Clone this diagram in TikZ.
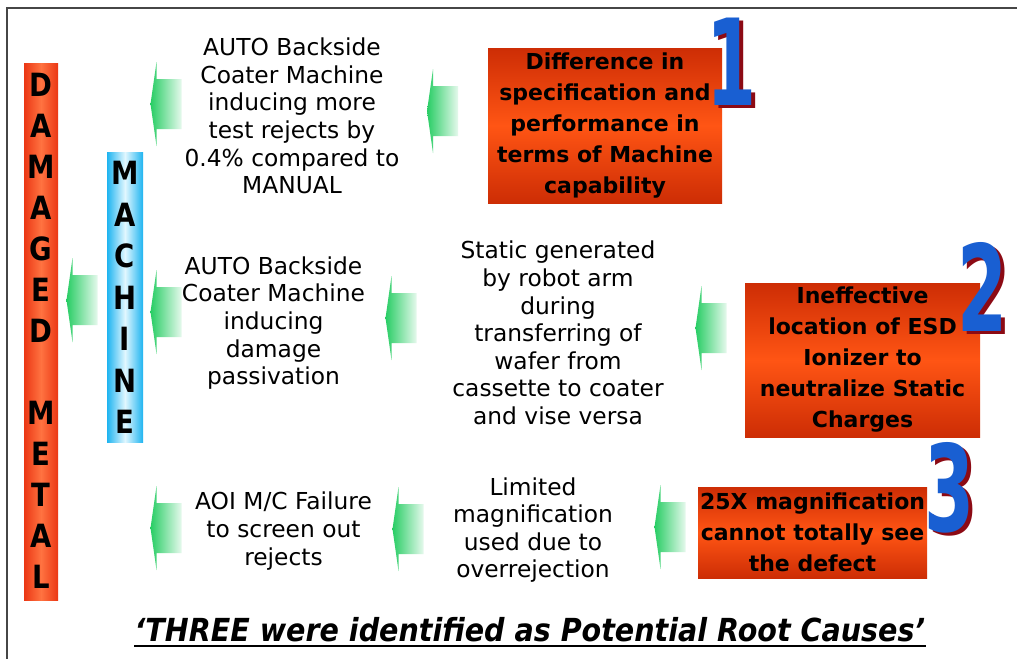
\documentclass[tikz,border=0pt]{standalone}
\usepackage{fontspec}
\setmainfont{DejaVu Sans}
\newfontfamily\barfont[FakeStretch=0.86]{DejaVu Sans}
\newfontfamily\numfont[FakeStretch=0.6]{DejaVu Sans}
\newfontfamily\titlefont[FakeStretch=0.9]{DejaVu Sans}
\newdimen\pxu \pxu=0.75pt
\definecolor{dmred}{RGB}{235,55,20}
\definecolor{dmlight}{RGB}{255,115,65}
\definecolor{mcblue}{RGB}{30,180,240}
\definecolor{mclight}{RGB}{225,247,255}
\definecolor{boxdark}{RGB}{205,45,5}
\definecolor{boxlight}{RGB}{255,85,20}
\definecolor{agreen}{RGB}{40,205,100}
\definecolor{numblue}{RGB}{25,95,210}
\definecolor{numshadow}{RGB}{140,10,20}
\definecolor{framegray}{RGB}{70,70,70}
\newcommand{\shadednum}[1]{\makebox[0pt][l]{\kern 2.6pt\raisebox{-2.3pt}{\textcolor{numshadow}{#1}}}#1}
\tikzset{
  garrow/.pic={
    \path[left color=agreen, right color=agreen!12]
      (-15.5,0) -- (-9.5,-42) -- (-9.5,-25) -- (15.5,-25) -- (15.5,25)
      -- (-9.5,25) -- (-9.5,42) -- cycle;
  },
  txt/.style={align=center, inner sep=0, font=\fontsize{17.5}{20.7}\selectfont},
  causebox/.style={top color=boxdark, bottom color=boxdark, middle color=boxlight,
    align=center, inner sep=0, font=\bfseries\fontsize{16.5}{23.25}\selectfont},
  barletter/.style={inner sep=0, font=\barfont\bfseries\fontsize{24}{24}\selectfont},
  bignum/.style={inner sep=0, font=\numfont\bfseries\fontsize{90}{90}\selectfont, text=numblue},
}
\begin{document}
\begin{tikzpicture}[x=0.75pt, y=-0.75pt]
\useasboundingbox (0,0) rectangle (1017,658);
\fill[white] (0,0) rectangle (1017,658);
% frame
\coordinate (fbl) at (7,660);
\coordinate (ftl) at (7,8);
\coordinate (ftr) at (1019,8);
\draw[line width=2\pxu, framegray] (fbl) -- (ftl) -- (ftr);

% bars
\node[minimum width=34\pxu, minimum height=537\pxu, inner sep=0,
  left color=dmred, right color=dmred, middle color=dmlight] (dmbar) at (41,331.5) {};
\foreach \i/\l in {0/D,1/A,2/M,3/A,4/G,5/E,6/D,8/M,9/E,10/T,11/A,12/L}
  \node[barletter] (dm\i) at (41,{85+41*\i}) {\l};
\node[minimum width=36\pxu, minimum height=290\pxu, inner sep=0,
  left color=mcblue, right color=mcblue, middle color=mclight] (mcbar) at (125,297) {};
\foreach \i/\l in {0/M,1/A,2/C,3/H,4/I,5/N,6/E}
  \node[barletter] (mc\i) at (125,{173+41.5*\i}) {\l};

% arrows
\pic (a1a) at (166,104) {garrow};
\pic (a1b) at (442.5,111) {garrow};
\pic (a2a) at (82,300) {garrow};
\pic (a2b) at (166,312) {garrow};
\pic (a2c) at (401,318) {garrow};
\pic (a2d) at (711,328) {garrow};
\pic (a3a) at (166,528) {garrow};
\pic (a3b) at (408,529) {garrow};
\pic (a3c) at (670,527) {garrow};

% texts
\node[txt] (t1) at (292,116) {AUTO Backside\\Coater Machine\\inducing more\\test rejects by\\0.4\% compared to\\MANUAL};
\node[txt] (t2) at (273.5,323) {AUTO Backside\\Coater Machine\\inducing\\damage\\passivation};
\node[txt] (t3) at (558,333) {Static generated\\by robot arm\\during\\transferring of\\wafer from\\cassette to coater\\and vise versa};
\node[txt] (t4) at (283.5,531) {AOI M/C Failure\\to screen out\\rejects};
\node[txt] (t5) at (533,530) {Limited\\magnification\\used due to\\overrejection};

% cause boxes
\node[causebox, minimum width=234\pxu, minimum height=155\pxu] (b1) at (605,125.5)
  {Difference in\\specification and\\performance in\\terms of Machine\\capability};
\node[causebox, minimum width=235\pxu, minimum height=154\pxu] (b2) at (862.5,360)
  {Ineffective\\location of ESD\\Ionizer to\\neutralize Static\\Charges};
\node[causebox, minimum width=229\pxu, minimum height=91\pxu] (b3) at (812.5,532.5)
  {25X magnification\\cannot totally see\\the defect};

% numbers
\node[bignum] (n1) at (732,63) {\shadednum{1}};
\node[bignum] (n2) at (983,288) {\shadednum{2}};
\node[bignum] (n3) at (950,489) {\shadednum{3}};

% title
\node[inner sep=0, anchor=base, font=\titlefont\bfseries\itshape\fontsize{23.8}{28}\selectfont]
  (title) at (530,641) {‘THREE were identified as Potential Root Causes’};
\draw[line width=2\pxu] ([yshift=-5\pxu]title.base west) -- ([yshift=-5\pxu]title.base east);
\end{tikzpicture}
\end{document}
